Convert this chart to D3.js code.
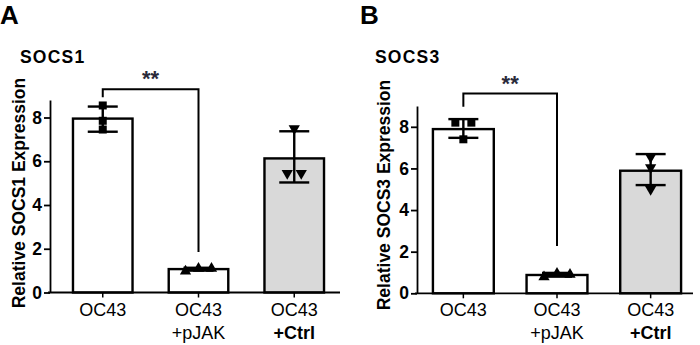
<!DOCTYPE html>
<html>
<head>
<meta charset="utf-8">
<script src="https://cdn.jsdelivr.net/npm/d3@7"></script>
<style>
  body { margin: 0; background: #fff; }
  svg text { font-family: "Liberation Sans", Arial, sans-serif; }
</style>
</head>
<body>
<div id="chart"></div>
<script>
// categories (two-line x labels)
var groups = ['OC43', 'OC43 +pJAK', 'OC43 +Ctrl']
var yTicks = [0, 2, 4, 6, 8]

// panel A - SOCS1
var socs1Means = [7.95, 1.07, 6.13]
var socs1ErrLo = [7.35, 1.0, 5.03]
var socs1ErrHi = [8.5, 1.13, 7.37]
var socs1Points = [[8.55, 7.85, 7.45], [0.97, 1.1, 1.1], [7.5, 5.45, 5.45]]

// panel B - SOCS3
var socs3Means = [7.89, 0.88, 5.89]
var socs3ErrLo = [7.47, 0.8, 5.2]
var socs3ErrHi = [8.37, 0.98, 6.69]
var socs3Points = [[8.2, 8.2, 7.4], [0.78, 0.95, 0.9], [6.55, 6.05, 5.0]]

var svg = d3.select('#chart').append('svg')
  .attr('width', 700).attr('height', 345)

var markers = ['square', 'triangle', 'triangleDown']
var fills = ['#fff', '#fff', '#d9d9d9']

function drawPanel(p){
  var g = svg.append('g')

  var x = d3.scaleBand().domain(groups)
    .range([p.x0, p.x1]).paddingInner(p.pi).paddingOuter(p.po)
  var y = d3.scaleLinear().domain([0, p.yMax]).range([p.y0, p.yTop])

  // panel letter + title
  g.append('text').attr('x', p.letterX).attr('y', 24)
    .style('font-size', '26px').style('font-weight', 'bold').text(p.letter)
  g.append('text').attr('x', p.titleX).attr('y', 63)
    .style('font-size', '17.5px').style('font-weight', 'bold')
    .style('letter-spacing', '1.2px').text(p.title)

  // y label
  g.append('text')
    .attr('transform', 'translate(' + p.labelX + ',' + p.labelY + ') rotate(-90)')
    .attr('text-anchor', 'middle')
    .style('font-size', '17.5px').style('font-weight', 'bold')
    .text(p.yLabel)

  // bars
  g.selectAll('rect.bar').data(p.means).enter().append('rect')
    .attr('x', function(d, i){ return x(groups[i]) })
    .attr('y', function(d){ return y(d) })
    .attr('width', x.bandwidth())
    .attr('height', function(d){ return y(0) - y(d) })
    .attr('fill', function(d, i){ return fills[i] })
    .attr('stroke', '#000').attr('stroke-width', 2.4)

  // points
  var sym = {
    square: d3.symbol().type(d3.symbolSquare).size(64),
    triangle: d3.symbol().type(d3.symbolTriangle).size(55),
    triangleDown: d3.symbol().type(d3.symbolTriangle).size(55)
  }
  p.points.forEach(function(vals, i){
    var cx = x(groups[i]) + x.bandwidth() / 2
    vals.forEach(function(v, j){
      var s = p.spread[i][j]
      g.append('path')
        .attr('d', sym[markers[i]]())
        .attr('transform', 'translate(' + (cx + s) + ',' + y(v) + ')' +
          (markers[i] == 'triangleDown' ? ' rotate(180)' : ''))
        .attr('fill', '#000')
    })
  })

  // error bars
  p.means.forEach(function(m, i){
    var cx = x(groups[i]) + x.bandwidth() / 2
    var lo = p.errLo[i], hi = p.errHi[i]
    g.append('line').attr('x1', cx).attr('x2', cx)
      .attr('y1', y(lo)).attr('y2', y(hi))
      .attr('stroke', '#000').attr('stroke-width', 2.4)
    ;[lo, hi].forEach(function(v){
      g.append('line').attr('x1', cx - 15).attr('x2', cx + 15)
        .attr('y1', y(v)).attr('y2', y(v))
        .attr('stroke', '#000').attr('stroke-width', 2.4)
    })
  })

  // y axis
  var yAxis = g.append('g').attr('transform', 'translate(' + p.x0 + ',0)')
    .call(d3.axisLeft(y).tickValues(yTicks).tickSize(6).tickSizeOuter(0).tickFormat(d3.format('d')))
  yAxis.select('.domain').attr('stroke-width', 1.8)
  yAxis.selectAll('.tick line').attr('stroke-width', 1.8)
  yAxis.selectAll('.tick text').attr('x', -8)
    .style('font-size', '17.5px').style('font-weight', 'bold')
    .style('font-family', '"Liberation Sans", Arial, sans-serif').attr('fill', '#000')

  // x axis
  var xAxis = g.append('g').attr('transform', 'translate(0,' + p.y0 + ')')
    .call(d3.axisBottom(x).tickSize(5).tickSizeOuter(0).tickFormat(''))
  xAxis.select('.domain').attr('d', 'M' + (p.x0 - 2) + ',0H' + p.axisEnd).attr('stroke-width', 1.8)
  xAxis.selectAll('.tick line').attr('stroke-width', 1.5)

  groups.forEach(function(gname, i){
    var cx = x(gname) + x.bandwidth() / 2
    var parts = gname.split(' ')
    var t = g.append('text').attr('text-anchor', 'middle')
      .style('font-size', '18px')
    t.append('tspan').attr('x', cx).attr('y', p.y0 + 23).text(parts[0])
    if(parts[1]){
      t.append('tspan').attr('x', cx).attr('y', p.y0 + 46).text(parts[1])
        .style('font-weight', i == 2 ? 'bold' : 'normal')
    }
  })

  // significance bracket
  var bx1 = x(groups[0]) + x.bandwidth() / 2
  var bx2 = x(groups[1]) + x.bandwidth() / 2
  g.append('path')
    .attr('d', 'M' + bx1 + ',' + y(p.bracket[0]) + 'V' + y(p.bracket[1]) +
      'H' + bx2 + 'V' + y(p.bracket[2]))
    .attr('fill', 'none').attr('stroke', '#000').attr('stroke-width', 2)
  g.append('text').attr('x', (bx1 + bx2) / 2).attr('y', y(p.bracket[1]) - 3)
    .attr('text-anchor', 'middle')
    .style('font-size', '22px').style('font-weight', 'bold').attr('fill', '#2a2a3a')
    .text('**')
}

drawPanel({
  letter: 'A', letterX: 0, title: 'SOCS1', titleX: 20,
  yLabel: 'Relative SOCS1 Expression', labelX: 25, labelY: 193,
  x0: 50, x1: 347, pi: 0.378, po: 0.24, axisEnd: 340,
  y0: 292.5, yTop: 100, yMax: 8.8,
  means: socs1Means, errLo: socs1ErrLo, errHi: socs1ErrHi, points: socs1Points,
  spread: [[0, 0, 0], [-13, 0, 13], [0, -7, 7]],
  bracket: [8.93, 9.29, 1.85]
})

drawPanel({
  letter: 'B', letterX: 360, title: 'SOCS3', titleX: 375,
  yLabel: 'Relative SOCS3 Expression', labelX: 390, labelY: 195,
  x0: 417, x1: 697, pi: 0.35, po: 0.17, axisEnd: 693,
  y0: 293.3, yTop: 106, yMax: 9,
  means: socs3Means, errLo: socs3ErrLo, errHi: socs3ErrHi, points: socs3Points,
  spread: [[-8, 8, 0], [-13, 0, 13], [0, 0, 0]],
  bracket: [8.96, 9.6, 2.27]
})
</script>
</body>
</html>
